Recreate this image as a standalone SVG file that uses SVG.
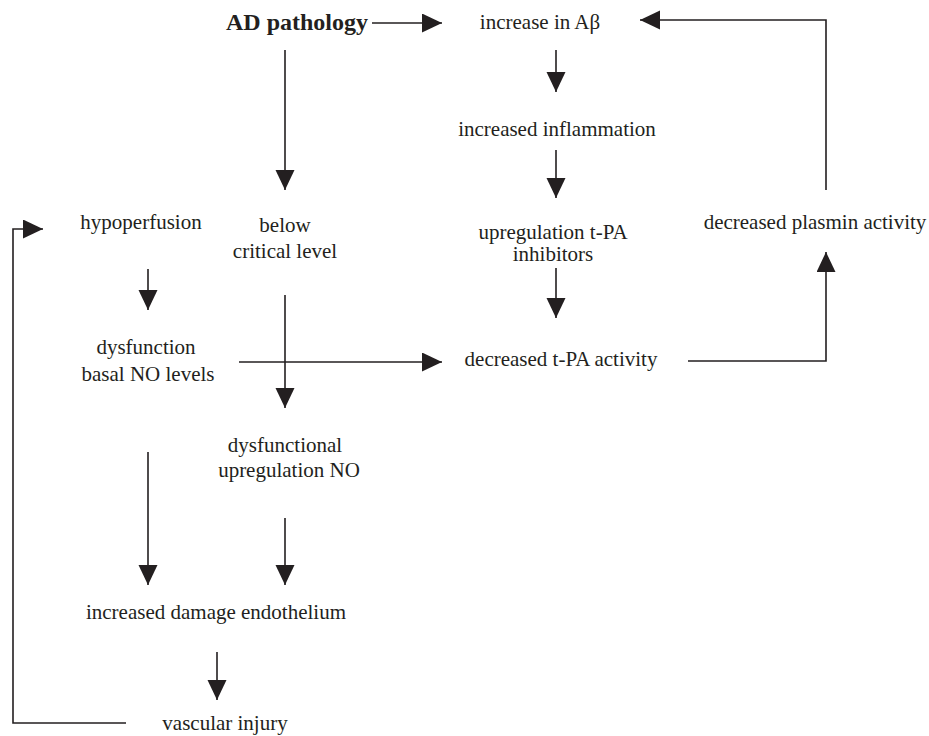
<svg xmlns="http://www.w3.org/2000/svg" width="929" height="736" viewBox="0 0 929 736">
<defs>
<style>
text{font-family:"Liberation Serif","Times New Roman",serif;font-size:21px;fill:#231f20;text-anchor:middle}
.b{font-weight:bold;font-size:24px}
.c{fill:none;stroke:#231f20;stroke-width:1.6}
</style>
<marker id="ah" markerUnits="userSpaceOnUse" markerWidth="20" markerHeight="20" refX="20" refY="9.5" orient="auto">
<path d="M0,0 L20,9.5 L0,19 Z" fill="#231f20"/>
</marker>
</defs>
<rect width="929" height="736" fill="#fff"/>
<g id="connectors">
<path class="c" d="M372,23 H442" marker-end="url(#ah)"/>
<path class="c" d="M826,190 V20 H640" marker-end="url(#ah)"/>
<path class="c" d="M688,361 H826 V252" marker-end="url(#ah)"/>
<path class="c" d="M556,50 V92" marker-end="url(#ah)"/>
<path class="c" d="M556,150 V198" marker-end="url(#ah)"/>
<path class="c" d="M556,268 V318" marker-end="url(#ah)"/>
<path class="c" d="M239,362 H442" marker-end="url(#ah)"/>
<path class="c" d="M285,50 V190" marker-end="url(#ah)"/>
<path class="c" d="M285,295 V408" marker-end="url(#ah)"/>
<path class="c" d="M148,269 V310" marker-end="url(#ah)"/>
<path class="c" d="M148,452 V585" marker-end="url(#ah)"/>
<path class="c" d="M285,518 V585" marker-end="url(#ah)"/>
<path class="c" d="M217,652 V700" marker-end="url(#ah)"/>
<path class="c" d="M126,723 H13 V229 H43" marker-end="url(#ah)"/>
</g>
<g id="ad"><text class="b" x="297" y="30">AD pathology</text></g>
<g id="abeta"><text x="540" y="29">increase in Aβ</text></g>
<g id="inflammation"><text x="557" y="136">increased inflammation</text></g>
<g id="hypoperfusion"><text x="141" y="229">hypoperfusion</text></g>
<g id="below"><text x="285" y="232">below</text><text x="285" y="258">critical level</text></g>
<g id="upreg-tpa"><text x="553" y="239">upregulation t-PA</text><text x="553" y="261">inhibitors</text></g>
<g id="plasmin"><text x="815" y="229">decreased plasmin activity</text></g>
<g id="dysfunction"><text x="146" y="354">dysfunction</text><text x="148" y="381">basal NO levels</text></g>
<g id="tpa"><text x="561" y="366">decreased t-PA activity</text></g>
<g id="dysfunctional"><text x="285" y="452">dysfunctional</text><text x="289" y="477">upregulation NO</text></g>
<g id="damage"><text x="216" y="619">increased damage endothelium</text></g>
<g id="injury"><text x="225" y="730">vascular injury</text></g>
</svg>
